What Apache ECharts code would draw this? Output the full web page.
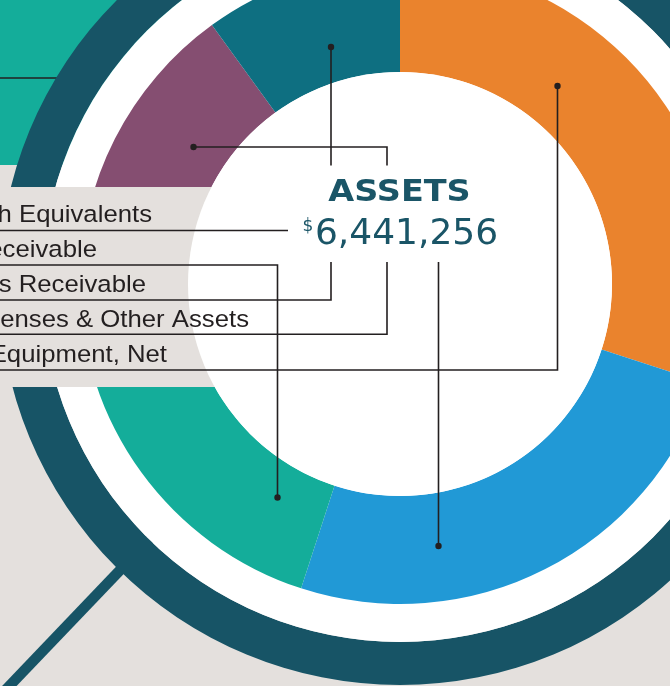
<!DOCTYPE html>
<html>
<head>
<meta charset="utf-8">
<script src="https://cdn.jsdelivr.net/npm/echarts@6/dist/echarts.min.js"></script>
<style>
html,body{margin:0;padding:0;background:#E4E0DD;}
#chart{width:670px;height:686px;}
</style>
</head>
<body>
<div id="chart"></div>
<script>
// Donut segments, clockwise from 12 o'clock
const categories = ['Property & Equipment, Net', 'Cash & Cash Equivalents', 'Accounts Receivable', 'Prepaid Expenses & Other Assets', 'Pledges Receivable'];
const values = [1932356, 1610300, 1288300, 966200, 644100];
const colors = ['#EA832D', '#2199D6', '#14AD9A', '#854E71', '#0E6F81'];
// Label rows, top to bottom
const labelRows = ['Cash & Cash Equivalents', 'Accounts Receivable', 'Pledges Receivable', 'Prepaid Expenses & Other Assets', 'Property & Equipment, Net'];
const title = 'ASSETS';
const totalText = '6,441,256';

const chart = echarts.init(document.getElementById('chart'), null, {renderer: 'canvas'});
const C = [400, 284];
const INK = '#231F20';
const DARK = '#175466';

// layout for label rows (right edge of visible text, baseline, underline y)
const rowRight = [152, 97, 146, 249, 167];
const rowBase = [223.3, 258, 293, 327.7, 362.7];
const rowLine = [230.5, 265, 300, 334.3, 370];

const graphics = [];
// neighbouring shape at top-left
graphics.push({type:'rect', shape:{x:0, y:0, width:220, height:165}, style:{fill:'#14AD9A'}, z:1, silent:true});
graphics.push({type:'polyline', shape:{points:[[0,78],[80,78]]}, style:{stroke:INK, lineWidth:1.6, fill:null}, z:1, silent:true});
// handle
graphics.push({type:'polyline', shape:{points:[[211,475],[-5,701]]}, style:{stroke:DARK, lineWidth:10.5, fill:null}, z:1, silent:true});
// label band
graphics.push({type:'rect', shape:{x:0, y:187, width:400, height:200}, style:{fill:'#E4E0DD'}, z:5, silent:true});
// inner white disc
graphics.push({type:'circle', shape:{cx:C[0], cy:C[1], r:212}, style:{fill:'#FFFFFF'}, z:6, silent:true});

// label texts
labelRows.forEach((t, i) => {
  graphics.push({type:'text', x:rowRight[i], y:rowBase[i] - 7.6, scaleX:1.05, z:8, silent:true,
    style:{text:t, fill:INK, font:'24.5px "Liberation Sans", Arial, sans-serif', align:'right', verticalAlign:'middle'}});
});

// leader lines
const L = (pts) => graphics.push({type:'polyline', shape:{points:pts}, style:{stroke:INK, lineWidth:1.6, fill:null}, z:7, silent:true});
const D = (x, y) => graphics.push({type:'circle', shape:{cx:x, cy:y, r:3.2}, style:{fill:INK}, z:7, silent:true});
// Cash -> blue
L([[0,rowLine[0]],[288,rowLine[0]]]);
L([[438.5,262],[438.5,546]]); D(438.5,546);
// Accounts receivable -> teal
L([[0,rowLine[1]],[277.5,rowLine[1]],[277.5,497.5]]); D(277.5,497.5);
// Pledges receivable -> dark teal
L([[0,rowLine[2]],[331,rowLine[2]],[331,262]]);
L([[331,165.5],[331,47]]); D(331,47);
// Prepaid -> purple
L([[0,rowLine[3]],[387,rowLine[3]],[387,262]]);
L([[387,165.5],[387,147],[193.5,147]]); D(193.5,147);
// Property -> orange
L([[0,rowLine[4]],[557.5,rowLine[4]],[557.5,86]]); D(557.5,86);

// centre text
graphics.push({type:'text', x:399.5, y:192.5, scaleX:1.08, z:8, silent:true,
  style:{text:title, fill:'#1A5567', font:'bold 31px "DejaVu Sans", sans-serif', align:'center', verticalAlign:'middle'}});
graphics.push({type:'text', x:308, y:227, z:8, silent:true,
  style:{text:'$', fill:'#1A5567', font:'17px "DejaVu Sans", sans-serif', align:'center', verticalAlign:'middle'}});
graphics.push({type:'text', x:406.5, y:235, z:8, silent:true,
  style:{text:totalText, fill:'#1A5567', font:'36px "DejaVu Sans", sans-serif', align:'center', verticalAlign:'middle'}});

const plain = {label:{show:false}, labelLine:{show:false}, emphasis:{disabled:true}, silent:true, animation:false};

const option = {
  animation: false,
  backgroundColor: '#E4E0DD',
  series: [
    Object.assign({type:'pie', center:C, radius:[358,401], z:2, data:[{value:1, name:'ring'}], itemStyle:{color:DARK}}, plain),
    Object.assign({type:'pie', center:C, radius:[0,358], z:3, data:[{value:1, name:'white'}], itemStyle:{color:'#FFFFFF'}}, plain),
    Object.assign({type:'pie', center:C, radius:[212,320], z:4, startAngle:90, clockwise:true,
      data: categories.map((c, i) => ({name:c, value:values[i], itemStyle:{color:colors[i]}}))}, plain)
  ],
  graphic: {elements: graphics}
};
chart.setOption(option);
</script>
</body>
</html>
